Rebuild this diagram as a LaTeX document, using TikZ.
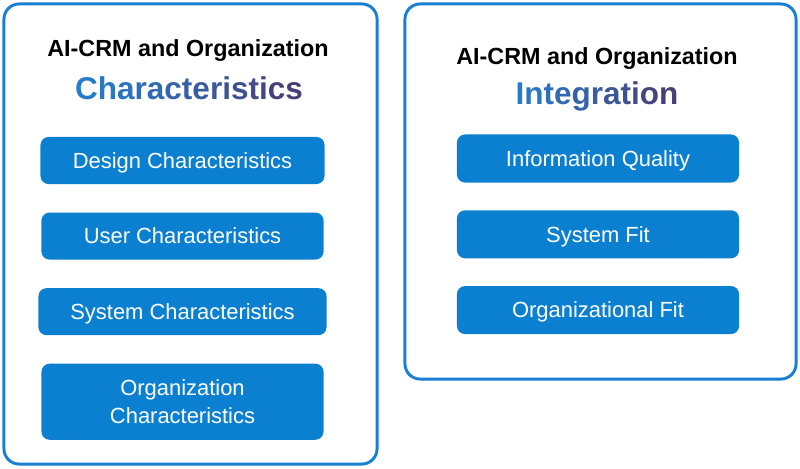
\documentclass[tikz,border=0pt]{standalone}
\usepackage{fontspec}
\setmainfont{Liberation Sans}
\usetikzlibrary{positioning}

\definecolor{panelblue}{RGB}{24,128,212}
\definecolor{boxblue}{RGB}{12,128,208}
\definecolor{headblue}{RGB}{38,124,204}
\definecolor{headpurple}{RGB}{74,62,118}

% letters of a word shaded from headblue to headpurple
\newcommand{\shadeword}[2]{\foreach \ch [count=\i from 0] in {#2}{\pgfmathtruncatemacro{\pct}{100-100*\i/#1}\textcolor{headblue!\pct!headpurple}{\ch}}}

\begin{document}
\begin{tikzpicture}[x=0.025cm,y=-0.025cm,node distance=0.7cm]
        \useasboundingbox (0,0) rectangle (800,468);
        \node[draw=panelblue,line width=2.1pt,rounded corners=0.38cm,minimum width=9.325cm,minimum height=11.5cm] (charpanel) at (190.5,234) {};
        \node[draw=panelblue,line width=2.1pt,rounded corners=0.38cm,minimum width=9.775cm,minimum height=9.375cm] (intpanel) at (600.5,191.5) {};
        \node[anchor=base,font=\fontsize{16.6}{20}\selectfont\bfseries] (chartitle) at (188,56) {AI-CRM and Organization};
        \node[anchor=base,font=\fontsize{22.4}{26}\selectfont\bfseries] (charhead) at (189,99) {\shadeword{14}{C,h,a,r,a,c,t,e,r,i,s,t,i,c,s}};
        \node[anchor=base,font=\fontsize{16.6}{20}\selectfont\bfseries] (inttitle) at (597,64) {AI-CRM and Organization};
        \node[anchor=base,font=\fontsize{22.4}{26}\selectfont\bfseries] (inthead) at (597,104) {\shadeword{10}{I,n,t,e,g,r,a,t,i,o,n}};
        \node[fill=boxblue,text=white,rounded corners=0.2cm,minimum width=7.1cm,minimum height=1.175cm,text height=11.2pt,text depth=0pt,font=\fontsize{15.6}{20}\selectfont] (design) at (182.5,160.5) {Design Characteristics};
        \node[fill=boxblue,text=white,rounded corners=0.2cm,minimum width=7.05cm,minimum height=1.175cm,text height=11.2pt,text depth=0pt,font=\fontsize{15.6}{20}\selectfont,below=of design] (user) {User Characteristics};
        \node[fill=boxblue,text=white,rounded corners=0.2cm,minimum width=7.2cm,minimum height=1.175cm,text height=11.2pt,text depth=0pt,font=\fontsize{15.6}{20}\selectfont,below=of user] (system) {System Characteristics};
        \node[fill=boxblue,text=white,rounded corners=0.2cm,minimum width=7.05cm,minimum height=1.9cm,font=\fontsize{15.6}{20}\selectfont,align=center,below=of system] (organization) {Organization\\Characteristics};
        \node[fill=boxblue,text=white,rounded corners=0.2cm,minimum width=7.05cm,minimum height=1.2cm,text height=11.2pt,text depth=0pt,font=\fontsize{15.6}{20}\selectfont] (infoquality) at (598,158.5) {Information Quality};
        \node[fill=boxblue,text=white,rounded corners=0.2cm,minimum width=7.05cm,minimum height=1.2cm,text height=11.2pt,text depth=0pt,font=\fontsize{15.6}{20}\selectfont,below=0.68cm of infoquality] (systemfit) {System Fit};
        \node[fill=boxblue,text=white,rounded corners=0.2cm,minimum width=7.05cm,minimum height=1.2cm,text height=11.2pt,text depth=0pt,font=\fontsize{15.6}{20}\selectfont,below=0.68cm of systemfit] (orgfit) {Organizational Fit};
    \end{tikzpicture}
\end{document}
